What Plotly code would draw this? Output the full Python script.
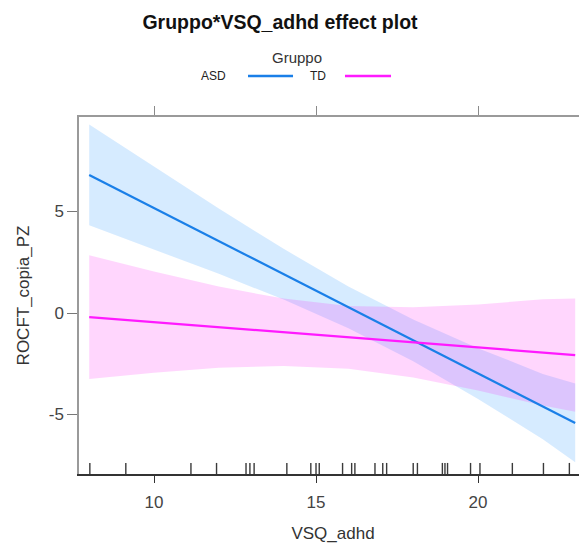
import plotly.graph_objects as go

# ---- data ----
groups = ["ASD", "TD"]
x_grid = [8, 10, 12, 14, 16, 18, 20, 22, 23]

asd_fit = [6.80, 5.17, 3.54, 1.91, 0.28, -1.35, -2.98, -4.61, -5.42]
asd_upper = [9.28, 7.20, 5.15, 3.16, 1.31, -0.32, -1.73, -3.00, -3.47]
asd_lower = [4.32, 3.14, 1.93, 0.66, -0.75, -2.38, -4.23, -6.22, -7.35]

td_fit = [-0.20, -0.45, -0.70, -0.95, -1.20, -1.45, -1.70, -1.94, -2.07]
td_upper = [2.85, 2.04, 1.30, 0.71, 0.35, 0.28, 0.42, 0.68, 0.72]
td_lower = [-3.25, -2.94, -2.70, -2.61, -2.75, -3.18, -3.82, -4.56, -4.86]

rug_values = [8.02, 9.13, 11.14, 11.93, 12.84, 12.96, 13.09, 14.10, 14.84, 15.00,
              15.10, 15.82, 16.10, 16.20, 16.82, 17.06, 17.18, 18.00, 18.13, 18.90,
              18.98, 19.06, 19.77, 20.06, 21.06, 22.02, 22.82]

x_ticks = [10, 15, 20]
x_tick_labels = ["10", "15", "20"]
y_ticks = [-5, 0, 5]
y_tick_labels = ["-5", "0", "5"]

title_text = "Gruppo*VSQ_adhd effect plot"
x_title = "VSQ_adhd"
y_title = "ROCFT_copia_PZ"
legend_title = "Gruppo"

line_colors = {"ASD": "#1a7fe8", "TD": "#ff1aff"}
band_colors = {"ASD": "rgba(0,128,255,0.16)", "TD": "rgba(255,0,240,0.16)"}

series = {
    "ASD": (asd_fit, asd_lower, asd_upper),
    "TD": (td_fit, td_lower, td_upper),
}

FONT = "Liberation Sans, Arial, sans-serif"

fig = go.Figure()

# confidence bands
for g in groups:
    fit, lo, up = series[g]
    fig.add_trace(go.Scatter(
        x=x_grid + x_grid[::-1], y=up + lo[::-1],
        fill="toself", fillcolor=band_colors[g], line=dict(width=0),
        mode="lines", hoverinfo="skip", showlegend=False))

# fitted lines
for g in groups:
    fit, lo, up = series[g]
    fig.add_trace(go.Scatter(
        x=x_grid, y=fit, mode="lines", name=g,
        line=dict(color=line_colors[g], width=2.2), showlegend=False))

# rug
rx, ry = [], []
for v in rug_values:
    rx += [v, v, None]
    ry += [0, 0.031, None]
fig.add_trace(go.Scatter(x=rx, y=ry, mode="lines", xaxis="x2", yaxis="y2",
                         line=dict(color="#3a3a3a", width=1.4),
                         hoverinfo="skip", showlegend=False))

# legend (key drawn in lattice style: label then line)
leg_y = 1.115
key_pos = {"ASD": (0.2933, 0.3327, 0.4213), "TD": (0.4902, 0.5236, 0.6142)}
annotations = [
    dict(text=legend_title, x=0.4291, y=1.168, xref="paper", yref="paper",
         showarrow=False, font=dict(family=FONT, size=15, color="#333333"),
         xanchor="center", yanchor="middle"),
]
shapes = []
for g in groups:
    tx, x0, x1 = key_pos[g]
    annotations.append(dict(text=g, x=tx, y=leg_y, xref="paper", yref="paper",
                            showarrow=False, xanchor="right", yanchor="middle",
                            font=dict(family=FONT, size=12, color="#222222")))
    shapes.append(dict(type="line", xref="paper", yref="paper", x0=x0, x1=x1,
                       y0=leg_y, y1=leg_y,
                       line=dict(color=line_colors[g], width=2.5)))

W, H = 579, 537  # page body adds an 8px margin
fig.update_layout(
    width=W, height=H,
    margin=dict(l=71, r=0, t=109, b=71),
    paper_bgcolor="white", plot_bgcolor="white",
    showlegend=False,
    title=dict(text="<b>" + title_text + "</b>", x=272 / W, xanchor="center",
               y=1 - 14 / H, yanchor="middle",
               font=dict(family=FONT, size=19.5, color="#111111")),
    font=dict(family=FONT, color="#333333"),
    annotations=annotations,
    shapes=shapes,
    xaxis=dict(range=[7.685, 23.364], tickvals=x_ticks, ticktext=x_tick_labels,
               ticks="outside",
               ticklen=7, tickwidth=1.3, tickcolor="#333333",
               showline=True, linecolor="#333333", linewidth=2,
               showgrid=False, zeroline=False,
               tickfont=dict(size=17, color="#444444"),
               ticklabelstandoff=5,
               title=dict(text=x_title, font=dict(size=17, color="#333333"),
                          standoff=16)),
    xaxis2=dict(matches="x", overlaying="x", side="top", anchor="y",
                tickvals=x_ticks, ticks="outside", ticklen=9, tickwidth=1.2,
                tickcolor="#8a8a8a", showline=True, linecolor="#9a9a9a",
                linewidth=1.5, showticklabels=False, showgrid=False,
                zeroline=False),
    yaxis=dict(range=[-7.93, 9.655], tickvals=y_ticks, ticktext=y_tick_labels,
               ticks="outside",
               ticklen=10, tickwidth=1.2, tickcolor="#777777",
               showline=True, linecolor="#9a9a9a", linewidth=1.5,
               showgrid=False, zeroline=False,
               tickfont=dict(size=17, color="#444444"),
               title=dict(text=y_title, font=dict(size=17, color="#333333"))),
    yaxis2=dict(range=[0, 1], overlaying="y", anchor="x", visible=False),
)

fig.write_html("out.html")
